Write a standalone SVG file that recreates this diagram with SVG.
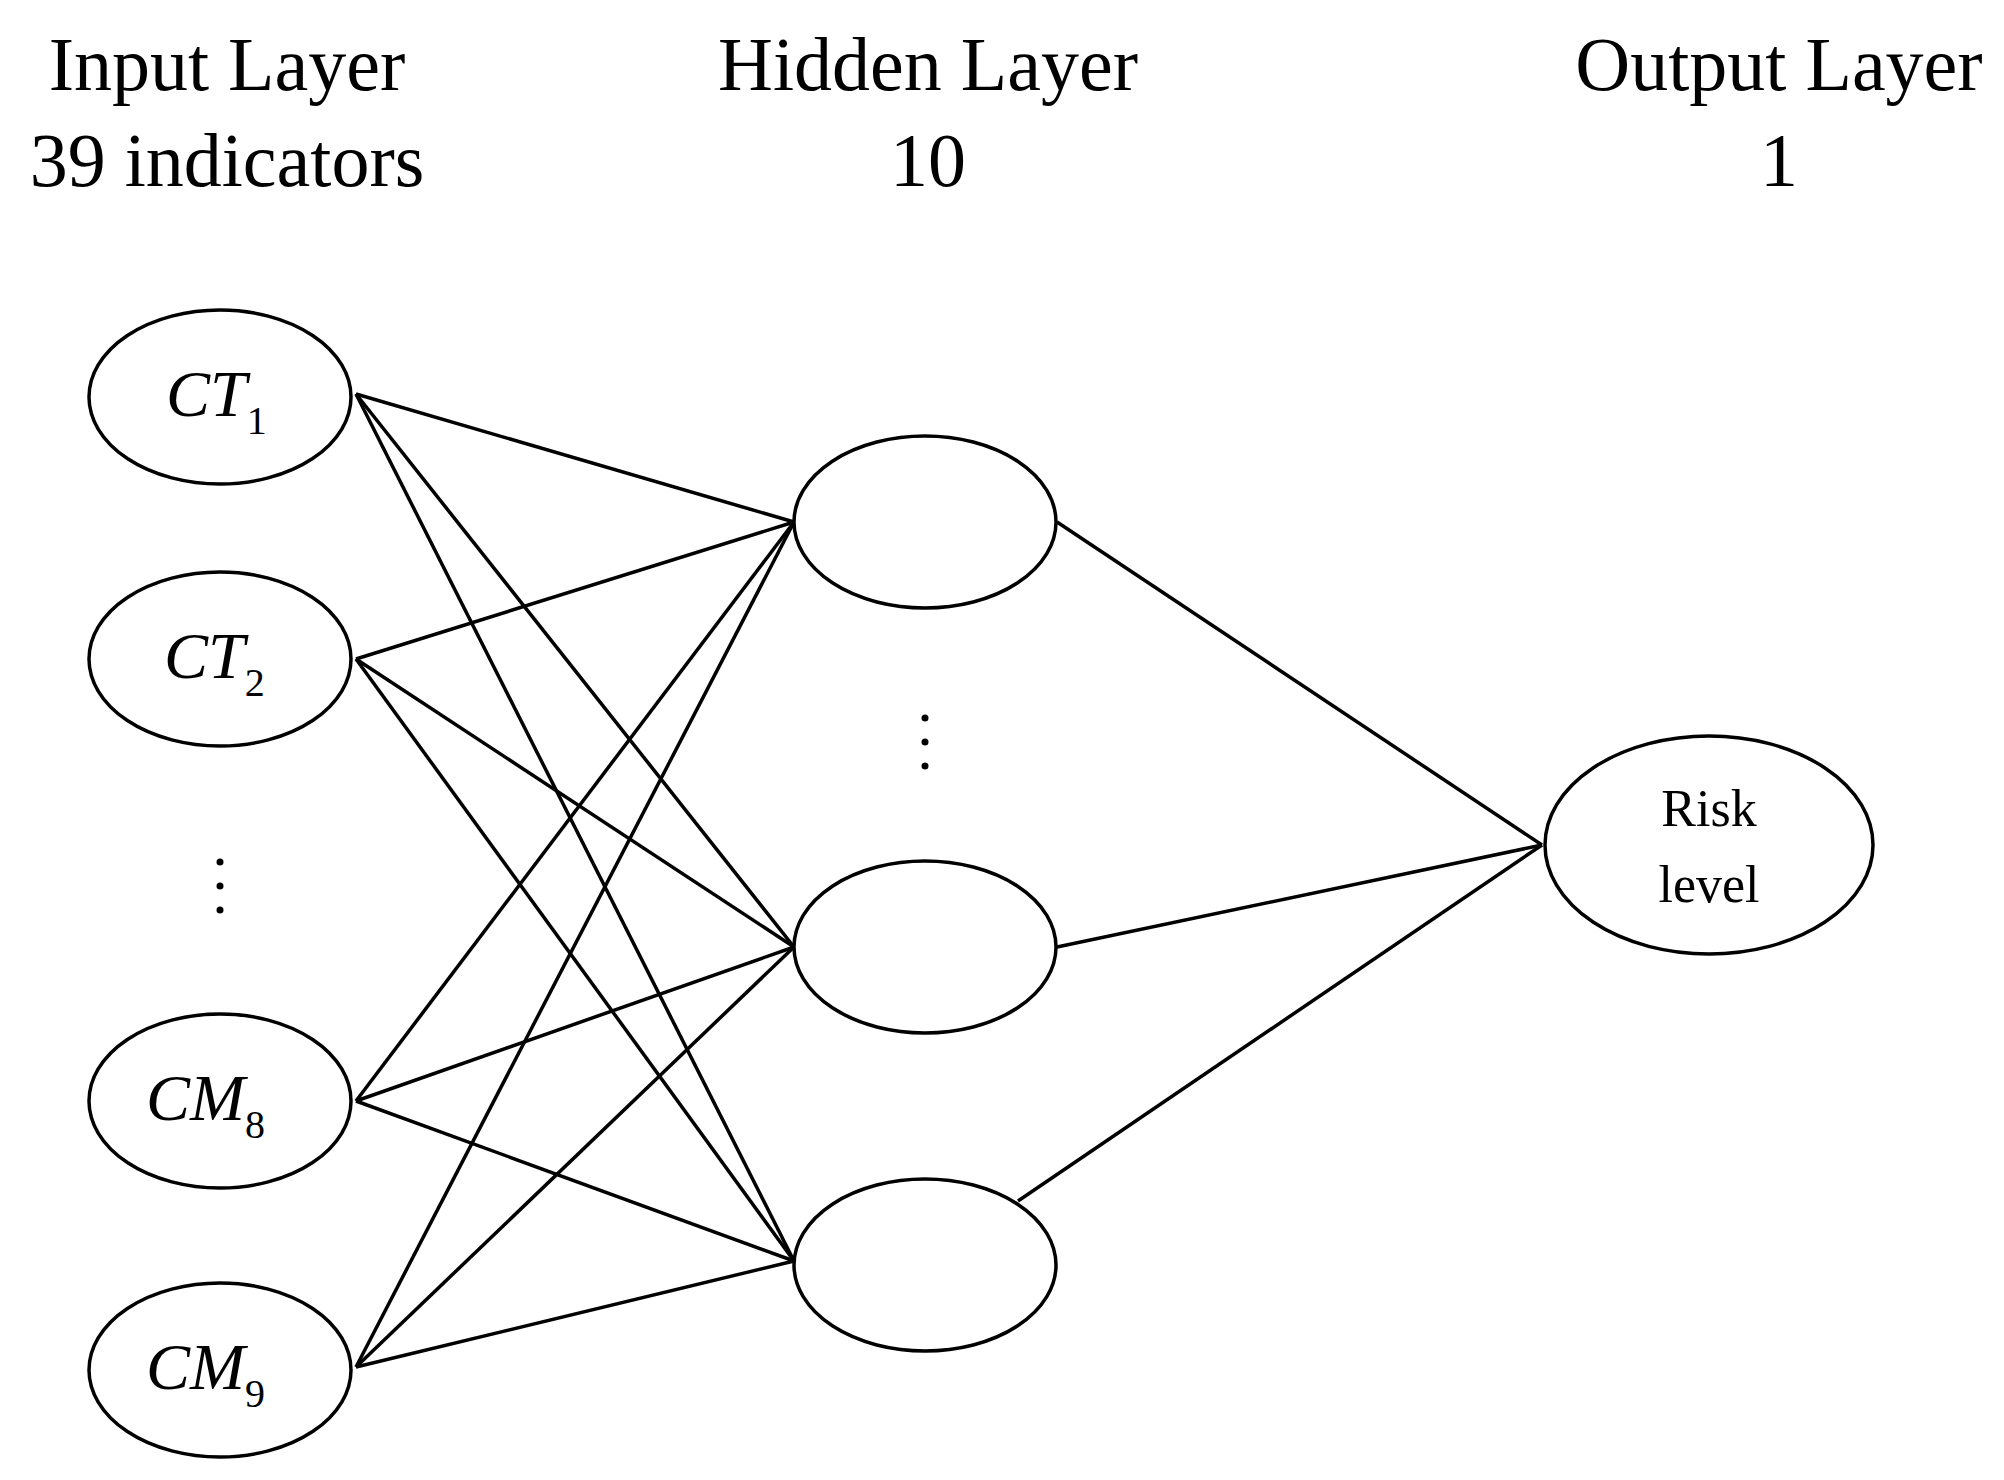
<svg xmlns="http://www.w3.org/2000/svg" width="2004" height="1480" viewBox="0 0 2004 1480">
<style>
.n{fill:#fff;stroke:#000;stroke-width:3.5}
.e line{stroke:#000;stroke-width:3.5}
text{font-family:"Liberation Serif",serif;fill:#000}
.h{font-size:76px;text-anchor:middle}
.l{font-size:66px;font-style:italic}
.s{font-size:40px;font-style:normal}
.r{font-size:52px;text-anchor:middle}
.d{fill:#000}
</style>
<rect width="2004" height="1480" fill="#fff"/>
<g id="headers">
<text class="h" x="227" y="90">Input Layer</text>
<text class="h" x="227" y="186">39 indicators</text>
<text class="h" x="928" y="90">Hidden Layer</text>
<text class="h" x="928" y="186">10</text>
<text class="h" x="1779" y="90">Output Layer</text>
<text class="h" x="1779" y="186">1</text>
</g>
<g class="e" id="connectors">
<line x1="356" y1="394" x2="794" y2="522"/>
<line x1="356" y1="394" x2="794" y2="947"/>
<line x1="356" y1="394" x2="794" y2="1261"/>
<line x1="356" y1="659" x2="794" y2="522"/>
<line x1="356" y1="659" x2="794" y2="947"/>
<line x1="356" y1="659" x2="794" y2="1261"/>
<line x1="356" y1="1101" x2="794" y2="522"/>
<line x1="356" y1="1101" x2="794" y2="947"/>
<line x1="356" y1="1101" x2="794" y2="1261"/>
<line x1="356" y1="1367" x2="794" y2="522"/>
<line x1="356" y1="1367" x2="794" y2="947"/>
<line x1="356" y1="1367" x2="794" y2="1261"/>
<line x1="1057" y1="522" x2="1542" y2="845"/>
<line x1="1057" y1="947" x2="1542" y2="845"/>
<line x1="1018" y1="1201" x2="1542" y2="845"/>
</g>
<g id="ct1"><ellipse class="n" cx="220" cy="397" rx="131" ry="87"/><text class="l" x="166" y="416">CT<tspan class="s" dy="18">1</tspan></text></g>
<g id="ct2"><ellipse class="n" cx="220" cy="659" rx="131" ry="87"/><text class="l" x="164" y="678">CT<tspan class="s" dy="18">2</tspan></text></g>
<g id="indots"><circle class="d" cx="220" cy="862" r="3.5"/><circle class="d" cx="220" cy="886" r="3.5"/><circle class="d" cx="220" cy="910" r="3.5"/></g>
<g id="cm8"><ellipse class="n" cx="220" cy="1101" rx="131" ry="87"/><text class="l" x="146" y="1120">CM<tspan class="s" dy="18">8</tspan></text></g>
<g id="cm9"><ellipse class="n" cx="220" cy="1370" rx="131" ry="87"/><text class="l" x="146" y="1389">CM<tspan class="s" dy="18">9</tspan></text></g>
<g id="h1"><ellipse class="n" cx="925" cy="522" rx="131" ry="86"/></g>
<g id="hdots"><circle class="d" cx="925" cy="718" r="3.5"/><circle class="d" cx="925" cy="742" r="3.5"/><circle class="d" cx="925" cy="766" r="3.5"/></g>
<g id="h2"><ellipse class="n" cx="925" cy="947" rx="131" ry="86"/></g>
<g id="h3"><ellipse class="n" cx="925" cy="1265" rx="131" ry="86"/></g>
<g id="out"><ellipse class="n" cx="1709" cy="845" rx="164" ry="109"/><text class="r" x="1709" y="826">Risk</text><text class="r" x="1709" y="902">level</text></g>
</svg>
